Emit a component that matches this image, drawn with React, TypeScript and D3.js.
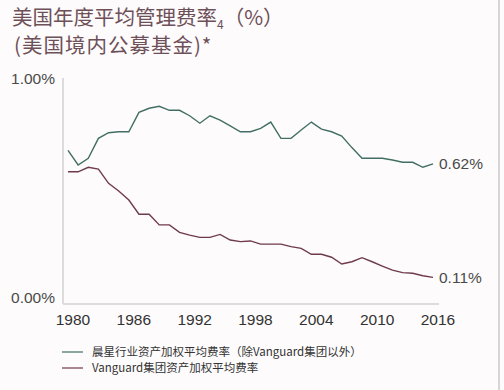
import * as d3 from 'd3';

const years = d3.range(1980, 2017);

// 晨星行业资产加权平均费率（除Vanguard集团以外）
const industryFees = [
  0.68, 0.615, 0.645, 0.733, 0.758, 0.762, 0.762, 0.848, 0.866, 0.875,
  0.857, 0.857, 0.833, 0.8, 0.833, 0.814, 0.788, 0.762, 0.762, 0.777,
  0.805, 0.733, 0.733, 0.77, 0.805, 0.774, 0.762, 0.743, 0.692, 0.645,
  0.645, 0.645, 0.637, 0.627, 0.627, 0.605, 0.62,
];

// Vanguard集团资产加权平均费率
const vanguardFees = [
  0.585, 0.585, 0.605, 0.597, 0.534, 0.5, 0.46, 0.397, 0.397, 0.35,
  0.35, 0.317, 0.305, 0.295, 0.295, 0.308, 0.283, 0.276, 0.279, 0.265,
  0.265, 0.265, 0.254, 0.246, 0.22, 0.22, 0.207, 0.177, 0.187, 0.205,
  0.187, 0.168, 0.15, 0.139, 0.136, 0.125, 0.118,
];

const xTicks = [1980, 1986, 1992, 1998, 2004, 2010, 2016];
const yTicks = [0, 1];
const endLabels = ['0.62%', '0.11%'];

const series = [
  { name: '晨星行业资产加权平均费率（除Vanguard集团以外）', values: industryFees, color: '#426f63' },
  { name: 'Vanguard集团资产加权平均费率', values: vanguardFees, color: '#6f3a4a' },
];

const W = 504;
const H = 390;
const font = '"Liberation Sans", Arial, sans-serif';
const cjk = '"Noto Sans CJK SC", "Liberation Sans", sans-serif';

export default function App() {
  const x = d3.scaleLinear().domain([1980, 2016]).range([68, 433]);
  const y = d3.scaleLinear().domain([0, 1]).range([304, 78]);

  const line = d3.line<number>()
    .x((_, i) => x(years[i]))
    .y(d => y(d));

  return (
    <svg width={W} height={H} style={{ position: 'fixed', left: 0, top: 0, background: '#fdfbfc' }}>
      <rect width={W} height={H} fill="#fdfbfc" />
      <line x1={499} x2={499} y1={0} y2={H} stroke="#d6d6d6" strokeWidth={2} />

      {/* title */}
      <text x={12} y={25} fontSize={20.5} fill="#6e5058" fontFamily={cjk}>
        美国年度平均管理费率<tspan fontSize={12} dy={4}>4</tspan><tspan dy={-4}>（%）</tspan>
      </text>
      <text x={14} y={53} fontSize={20.5} fill="#6e5058" fontFamily={cjk} letterSpacing={1}>
        (美国境内公募基金)*
      </text>

      {/* axes */}
      <line x1={63} x2={63} y1={y(1)} y2={y(0)} stroke="#dcdcdc" strokeWidth={2} />
      <line x1={63} x2={439} y1={y(0)} y2={y(0)} stroke="#dcdcdc" strokeWidth={2} />

      {yTicks.map(t => (
        <text key={t} x={55} y={y(t) + (t === 0 ? -6 : 1)} dy="0.35em" textAnchor="end"
          fontSize={15.5} fill="#4a4a4a" fontFamily={font}>
          {d3.format('.2f')(t)}%
        </text>
      ))}

      {xTicks.map(t => (
        <text key={t} x={x(t) + 5} y={325} textAnchor="middle" fontSize={15.5} fill="#333" fontFamily={font}>
          {t}
        </text>
      ))}

      {series.map((s, i) => (
        <g key={s.name}>
          <path d={line(s.values) ?? ''} fill="none" stroke={s.color} strokeWidth={1.4} />
          <text x={439} y={y(s.values[s.values.length - 1])} dy="0.35em" fontSize={15.5}
            fill="#4a4a4a" fontFamily={font}>
            {endLabels[i]}
          </text>
        </g>
      ))}

      {/* legend */}
      {series.map((s, i) => (
        <g key={'lg' + i} transform={`translate(62,${352 + i * 16})`}>
          <line x1={0} x2={21} y1={0} y2={0} stroke={s.color} strokeWidth={1.2} />
          <text x={30} y={0} dy="0.35em" fontSize={11.5} fill="#333" fontFamily={cjk}>
            {s.name}
          </text>
        </g>
      ))}
    </svg>
  );
}
